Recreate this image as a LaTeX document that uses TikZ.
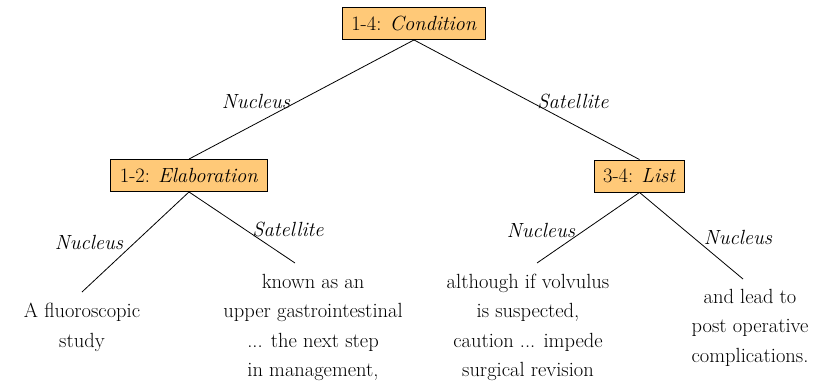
\documentclass[tikz,border=0pt]{standalone}
\definecolor{boxfill}{RGB}{255,201,120}
\tikzset{
  rel/.style={draw=black, line width=0.9pt, fill=boxfill, inner xsep=9pt, inner ysep=0pt,
              minimum height=32pt, font=\fontsize{20.5}{24}\selectfont},
  leaf/.style={align=center, inner sep=0pt, anchor=base, font=\fontsize{20.5}{29.5}\selectfont},
  lbl/.style={inner sep=0pt, font=\fontsize{20.5}{24}\selectfont\itshape},
  conn/.style={line width=0.8pt}
}
\begin{document}
\begin{tikzpicture}[x=1pt,y=-1pt]
\useasboundingbox (0,0) rectangle (813,385);
\node[rel] (n14) at (414,23.5) {1-4: \textit{Condition}};
\node[rel] (n12) at (189,175.5) {1-2: \textit{Elaboration}};
\node[rel] (n34) at (639.5,176) {3-4: \textit{List}};

\node[leaf] (l1) at (82,347) {A fluoroscopic\\study};
\node[leaf] (l2) at (313,376.5) {known as an\\upper gastrointestinal\\... the next step\\in management,};
\node[leaf] (l3) at (528,376.5) {although if volvulus\\is suspected,\\caution ... impede\\surgical revision};
\node[leaf] (l4) at (750,362) {and lead to\\post operative\\complications.};

\coordinate (e1) at (82,292);
\coordinate (e2) at (295,263);
\coordinate (e3) at (537,263);
\coordinate (e4) at (743,279);

\draw[conn] (n14.south) -- (n12.north);
\draw[conn] (n14.south) -- (n34.north);
\draw[conn] (n12.south) -- (e1);
\draw[conn] (n12.south) -- (e2);
\draw[conn] (n34.south) -- (e3);
\draw[conn] (n34.south) -- (e4);

\node[lbl] (t1) at (256,101) {Nucleus};
\node[lbl] (t2) at (573,101) {Satellite};
\node[lbl] (t3) at (89,242) {Nucleus};
\node[lbl] (t4) at (288,229) {Satellite};
\node[lbl] (t5) at (541,230) {Nucleus};
\node[lbl] (t6) at (738,237) {Nucleus};
\end{tikzpicture}
\end{document}
